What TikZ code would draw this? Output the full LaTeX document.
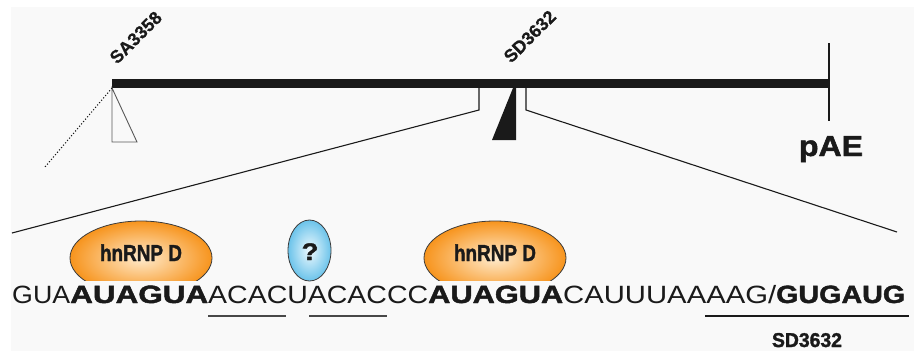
\documentclass[tikz,border=0pt]{standalone}
\usepackage{fontspec}
\setmainfont{Liberation Sans}
\newfontfamily\heavy[FakeBold=1.6]{Liberation Sans Bold}
\newfontfamily\semiheavy[FakeBold=0.6]{Liberation Sans Bold}
\usetikzlibrary{shapes.geometric}
\definecolor{bg}{HTML}{F9F9F9}
\definecolor{ink}{HTML}{1A1A1A}
\definecolor{orangeO}{HTML}{F7941D}
\definecolor{orangeI}{HTML}{FFEBCD}
\definecolor{blueO}{HTML}{6BC3EA}
\definecolor{blueI}{HTML}{EEF9FE}
\tikzset{
  seq/.style={inner sep=0pt, anchor=base west, text=ink, font=\fontsize{25}{30}\selectfont},
  lab/.style={inner sep=0pt, anchor=base, text=ink, font=\heavy\fontsize{20}{24}\selectfont},
  slab/.style={inner sep=0pt, anchor=base west, rotate=45, text=ink, font=\semiheavy\fontsize{18}{20}\selectfont},
  thin line/.style={draw=ink, line width=1.1pt},
  uline/.style={draw=ink!80, line width=1.6pt},
}
\begin{document}
\begin{tikzpicture}[x=1pt,y=-1pt]
\useasboundingbox (0,0) rectangle (914,351);
\fill[white] (0,0) rectangle (914,351);
\fill[bg] (11,7) rectangle (914,351);

% gene bar
\fill[ink] (112,79) rectangle (828,88);
\coordinate (barL) at (112,88);
\coordinate (pTop) at (829,43);
\coordinate (pBot) at (829,121);
\draw[thin line] (pTop) -- (pBot);
\node[lab, font=\heavy\fontsize{29}{32}\selectfont] (pae) at (831,156) {\resizebox{64pt}{\height}{pAE}};

% splice site labels
\node[slab] (sa) at (117,65) {SA3358};
\node[slab] (sd) at (511,64) {SD3632};

% open triangle and dotted line
\draw[draw=black!65, line width=0.9pt] (barL) -- (112,142) -- (137,142) -- cycle;
\coordinate (dotEnd) at (45,167);
\draw[ink, dotted, line width=1.1pt] (barL) -- (dotEnd);

% filled triangle
\fill[ink] (513,88) -- (516,88) -- (516,140) -- (492,140) -- cycle;

% zoom bracket
\coordinate (bl1) at (479,88);
\coordinate (bl2) at (479,110);
\coordinate (bl3) at (12,233);
\coordinate (br1) at (526,88);
\coordinate (br2) at (526,110);
\coordinate (br3) at (897,232);
\draw[thin line] (bl1) -- (bl2) -- (bl3);
\draw[thin line] (br1) -- (br2) -- (br3);

% protein ellipses
\begin{scope}
  \clip (0,0) rectangle (914,280);
  \shade[inner color=orangeI, outer color=orangeO, draw=ink!85, line width=0.8pt] (141,258) ellipse [x radius=71, y radius=37];
  \shade[inner color=orangeI, outer color=orangeO, draw=ink!85, line width=0.8pt] (495,258) ellipse [x radius=71, y radius=37];
\end{scope}
\shade[inner color=blueI, outer color=blueO, draw=ink!85, line width=0.8pt] (309.5,250.5) ellipse [x radius=21.5, y radius=30.5];
\node[lab, font=\heavy\fontsize{23}{26}\selectfont] (h1) at (141,261) {\resizebox{82pt}{\height}{hnRNP D}};
\node[lab, font=\heavy\fontsize{23}{26}\selectfont] (h2) at (495,261) {\resizebox{82pt}{\height}{hnRNP D}};
\node[lab, font=\heavy\fontsize{24}{28}\selectfont] (q) at (310,260) {\resizebox{17pt}{\height}{?}};

% sequence
\node[seq] (s1) at (12,303) {\resizebox{58pt}{\height}{GUA}};
\node[seq] (s2) at (70,303) {\resizebox{138pt}{\height}{\heavy AUAGUA}};
\node[seq] (s3) at (208,303) {\resizebox{220pt}{\height}{ACACUACACCC}};
\node[seq] (s4) at (428,303) {\resizebox{135pt}{\height}{\heavy AUAGUA}};
\node[seq] (s5) at (563,303) {\resizebox{213pt}{\height}{CAUUUAAAAG/}};
\node[seq] (s6) at (776,303) {\resizebox{129pt}{\height}{\heavy GUGAUG}};

% underlines
\draw[uline] (208,316) -- (286,316);
\draw[uline] (309,316) -- (387,316);
\draw[draw=ink, line width=2.6pt] (705,316) -- (909,316);
\node[lab] (sdb) at (807,347) {\resizebox{70pt}{\height}{SD3632}};
\end{tikzpicture}
\end{document}
